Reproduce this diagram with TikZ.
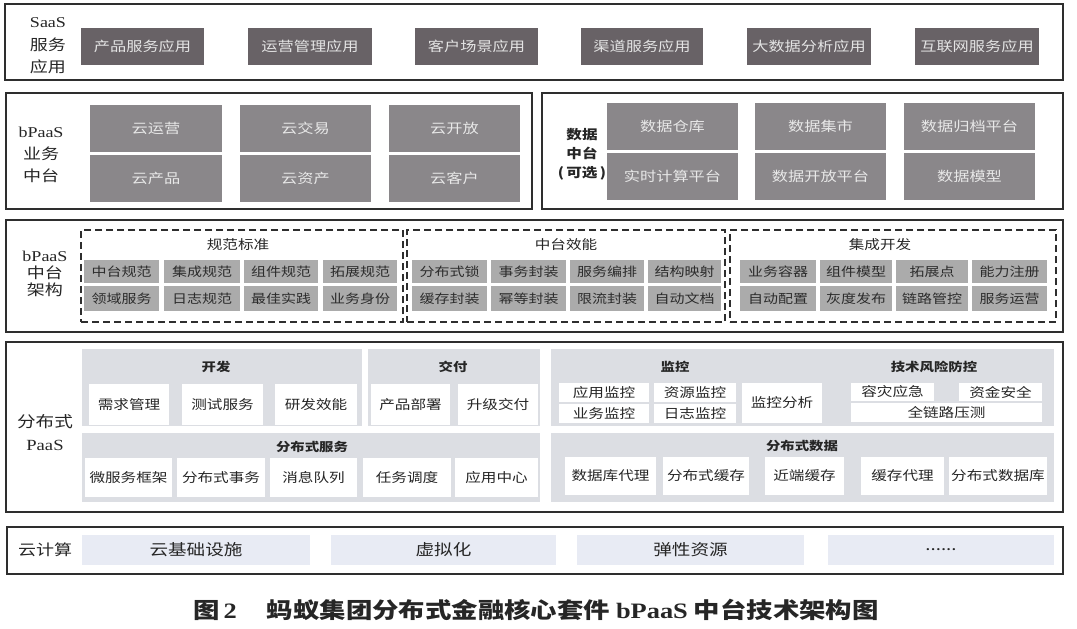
\documentclass[tikz,border=0pt]{standalone}
\usepackage{fontspec}
\setmainfont{Liberation Serif}[FakeStretch=1.2]
\newfontfamily\cjk{Noto Sans CJK SC}[FakeStretch=1.2]
\definecolor{framec}{HTML}{2E2E2E}
\definecolor{saasc}{HTML}{686266}
\definecolor{saastx}{HTML}{E4E4E4}
\definecolor{bizc}{HTML}{8A878A}
\definecolor{biztx}{HTML}{E8E8E8}
\definecolor{archc}{HTML}{ABABAB}
\definecolor{archtx}{HTML}{2C2C2C}
\definecolor{panelc}{HTML}{DCDEE3}
\definecolor{cloudc}{HTML}{E8EBF4}
\definecolor{txc}{HTML}{262626}
\newcommand{\mkbox}[7]{%
  \pgfmathsetmacro{\bxcx}{(#2+#4)/2}\pgfmathsetmacro{\bxcy}{(#3+#5)/2}%
  \pgfmathsetmacro{\bxw}{#4-#2}\pgfmathsetmacro{\bxh}{#5-#3}%
  \node[#6, inner sep=0pt, minimum width=\bxw pt, minimum height=\bxh pt] (#1) at (\bxcx,\bxcy) {#7};}
\tikzset{
  frame/.style={draw=framec, line width=1.2pt},
  dashbox/.style={draw=framec, line width=1.1pt, dash pattern=on 7pt off 4pt},
  saasbox/.style={fill=saasc, text=saastx, font=\cjk\fontsize{13.5}{16}\selectfont},
  bizbox/.style={fill=bizc, text=biztx, font=\cjk\fontsize{13.5}{16}\selectfont},
  archcell/.style={fill=archc, text=archtx, font=\cjk\fontsize{12.5}{15}\selectfont},
  panel/.style={fill=panelc},
  pcell/.style={fill=white, text=txc, font=\cjk\fontsize{13}{15}\selectfont},
  cpanel/.style={fill=cloudc, text=txc, font=\cjk\fontsize{15.5}{18}\selectfont},
  ttl/.style={text=txc, inner sep=0pt, font=\cjk\bfseries\fontsize{12}{14}\selectfont},
  dttl/.style={text=txc, inner sep=0pt, font=\cjk\fontsize{13}{15}\selectfont},
  lbl/.style={align=center, text=txc, inner sep=0pt}
}
\begin{document}
\begin{tikzpicture}[x=1pt,y=-1pt]
\fill[white] (0,0) rectangle (1077,629);
\useasboundingbox (0,0) rectangle (1077,629);

% ---------- SaaS ----------
\mkbox{saasF}{5}{4}{1063}{80}{frame}{}
\node[lbl, font=\cjk\fontsize{15}{22.5}\selectfont] (saasL) at (48,46) {{\rmfamily SaaS}\\服务\\应用};
\mkbox{s1}{81}{28}{204}{65}{saasbox}{产品服务应用}
\mkbox{s2}{248}{28}{372}{65}{saasbox}{运营管理应用}
\mkbox{s3}{415}{28}{538}{65}{saasbox}{客户场景应用}
\mkbox{s4}{581}{28}{703}{65}{saasbox}{渠道服务应用}
\mkbox{s5}{747}{28}{871}{65}{saasbox}{大数据分析应用}
\mkbox{s6}{915}{28}{1039}{65}{saasbox}{互联网服务应用}

% ---------- bPaaS business ----------
\mkbox{bizF}{6}{93}{532}{209}{frame}{}
\node[lbl, font=\cjk\fontsize{15}{22}\selectfont] (bizL) at (41,155) {{\rmfamily bPaaS}\\业务\\中台};
\mkbox{b1}{90}{105}{222}{152}{bizbox}{云运营}
\mkbox{b2}{240}{105}{371}{152}{bizbox}{云交易}
\mkbox{b3}{389}{105}{520}{152}{bizbox}{云开放}
\mkbox{b4}{90}{155}{222}{202}{bizbox}{云产品}
\mkbox{b5}{240}{155}{371}{202}{bizbox}{云资产}
\mkbox{b6}{389}{155}{520}{202}{bizbox}{云客户}

% ---------- data middle ----------
\mkbox{dataF}{542}{93}{1063}{209}{frame}{}
\node[lbl, font=\cjk\bfseries\fontsize{13}{19}\selectfont] (dataL) at (582,154) {数据\\中台\\(\,可选\,)};
\mkbox{d1}{607}{103}{738}{150}{bizbox}{数据仓库}
\mkbox{d2}{755}{103}{886}{150}{bizbox}{数据集市}
\mkbox{d3}{904}{103}{1035}{150}{bizbox}{数据归档平台}
\mkbox{d4}{607}{153}{738}{200}{bizbox}{实时计算平台}
\mkbox{d5}{755}{153}{886}{200}{bizbox}{数据开放平台}
\mkbox{d6}{904}{153}{1035}{200}{bizbox}{数据模型}

% ---------- bPaaS architecture ----------
\mkbox{archF}{6}{220}{1063}{332}{frame}{}
\node[lbl, font=\cjk\fontsize{15}{17}\selectfont] (archL) at (45,274) {{\rmfamily bPaaS}\\中台\\架构};
\mkbox{D1}{81}{230}{403}{322}{dashbox}{}
\mkbox{D2}{407}{230}{725}{322}{dashbox}{}
\mkbox{D3}{730}{230}{1056}{322}{dashbox}{}
\node[dttl] (t1) at (238,245) {规范标准};
\node[dttl] (t2) at (566,245) {中台效能};
\node[dttl] (t3) at (880,245) {集成开发};
\mkbox{a11}{84}{260}{159}{283}{archcell}{中台规范}
\mkbox{a12}{164}{260}{240}{283}{archcell}{集成规范}
\mkbox{a13}{244}{260}{318}{283}{archcell}{组件规范}
\mkbox{a14}{323}{260}{397}{283}{archcell}{拓展规范}
\mkbox{a15}{84}{286}{159}{311}{archcell}{领域服务}
\mkbox{a16}{164}{286}{240}{311}{archcell}{日志规范}
\mkbox{a17}{244}{286}{318}{311}{archcell}{最佳实践}
\mkbox{a18}{323}{286}{397}{311}{archcell}{业务身份}
\mkbox{a21}{412}{260}{487}{283}{archcell}{分布式锁}
\mkbox{a22}{491}{260}{566}{283}{archcell}{事务封装}
\mkbox{a23}{570}{260}{644}{283}{archcell}{服务编排}
\mkbox{a24}{648}{260}{721}{283}{archcell}{结构映射}
\mkbox{a25}{412}{286}{487}{311}{archcell}{缓存封装}
\mkbox{a26}{491}{286}{566}{311}{archcell}{幂等封装}
\mkbox{a27}{570}{286}{644}{311}{archcell}{限流封装}
\mkbox{a28}{648}{286}{721}{311}{archcell}{自动文档}
\mkbox{a31}{740}{260}{816}{283}{archcell}{业务容器}
\mkbox{a32}{820}{260}{892}{283}{archcell}{组件模型}
\mkbox{a33}{896}{260}{968}{283}{archcell}{拓展点}
\mkbox{a34}{972}{260}{1047}{283}{archcell}{能力注册}
\mkbox{a35}{740}{286}{816}{311}{archcell}{自动配置}
\mkbox{a36}{820}{286}{892}{311}{archcell}{灰度发布}
\mkbox{a37}{896}{286}{968}{311}{archcell}{链路管控}
\mkbox{a38}{972}{286}{1047}{311}{archcell}{服务运营}

% ---------- distributed PaaS ----------
\mkbox{paasF}{6}{342}{1063}{512}{frame}{}
\node[lbl, font=\cjk\fontsize{15.5}{23}\selectfont] (paasL) at (45,433) {分布式\\{\rmfamily PaaS}};
\mkbox{p1}{82}{349}{362}{426}{panel}{}
\mkbox{p2}{368}{349}{540}{426}{panel}{}
\mkbox{p3}{551}{349}{1054}{426}{panel}{}
\mkbox{p4}{82}{433}{540}{502}{panel}{}
\mkbox{p5}{551}{433}{1054}{502}{panel}{}
\node[ttl] (tk1) at (216,367) {开发};
\node[ttl] (tk2) at (453,367) {交付};
\node[ttl] (tk3) at (675,367) {监控};
\node[ttl] (tk4) at (934,367) {技术风险防控};
\node[ttl] (tk5) at (312,447) {分布式服务};
\node[ttl] (tk6) at (802,446) {分布式数据};
\mkbox{k11}{89}{384}{169}{425}{pcell}{需求管理}
\mkbox{k12}{182}{384}{263}{425}{pcell}{测试服务}
\mkbox{k13}{275}{384}{357}{425}{pcell}{研发效能}
\mkbox{k21}{371}{384}{450}{425}{pcell}{产品部署}
\mkbox{k22}{458}{384}{538}{425}{pcell}{升级交付}
\mkbox{k31}{559}{383}{649}{402}{pcell}{应用监控}
\mkbox{k32}{559}{404}{649}{423}{pcell}{业务监控}
\mkbox{k33}{654}{383}{736}{402}{pcell}{资源监控}
\mkbox{k34}{654}{404}{736}{423}{pcell}{日志监控}
\mkbox{k35}{742}{383}{822}{423}{pcell}{监控分析}
\mkbox{k41}{851}{383}{934}{401}{pcell}{容灾应急}
\mkbox{k42}{959}{383}{1042}{401}{pcell}{资金安全}
\mkbox{k43}{851}{403}{1042}{422}{pcell}{全链路压测}
\mkbox{k51}{85}{458}{172}{497}{pcell}{微服务框架}
\mkbox{k52}{177}{458}{265}{497}{pcell}{分布式事务}
\mkbox{k53}{270}{458}{357}{497}{pcell}{消息队列}
\mkbox{k54}{363}{458}{451}{497}{pcell}{任务调度}
\mkbox{k55}{455}{458}{538}{497}{pcell}{应用中心}
\mkbox{k61}{565}{457}{656}{495}{pcell}{数据库代理}
\mkbox{k62}{663}{457}{749}{495}{pcell}{分布式缓存}
\mkbox{k63}{765}{457}{844}{495}{pcell}{近端缓存}
\mkbox{k64}{861}{457}{944}{495}{pcell}{缓存代理}
\mkbox{k65}{949}{457}{1047}{495}{pcell}{分布式数据库}

% ---------- cloud computing ----------
\mkbox{cloudF}{7}{527}{1063}{574}{frame}{}
\node[lbl, font=\cjk\fontsize{15}{18}\selectfont] (cloudL) at (45,550) {云计算};
\mkbox{c1}{82}{535}{310}{565}{cpanel}{云基础设施}
\mkbox{c2}{331}{535}{556}{565}{cpanel}{虚拟化}
\mkbox{c3}{577}{535}{804}{565}{cpanel}{弹性资源}
\mkbox{c4}{828}{535}{1054}{565}{cpanel}{......}

% ---------- caption ----------
\node[anchor=west, inner sep=0pt, text=txc, font=\cjk\bfseries\fontsize{22}{26}\selectfont] (cap) at (193,610)
  {图\hspace{4pt}{\rmfamily\bfseries 2}\hspace{30pt}蚂蚁集团分布式金融核心套件\hspace{6pt}{\rmfamily\bfseries bPaaS}\hspace{6pt}中台技术架构图};
\end{tikzpicture}
\end{document}
